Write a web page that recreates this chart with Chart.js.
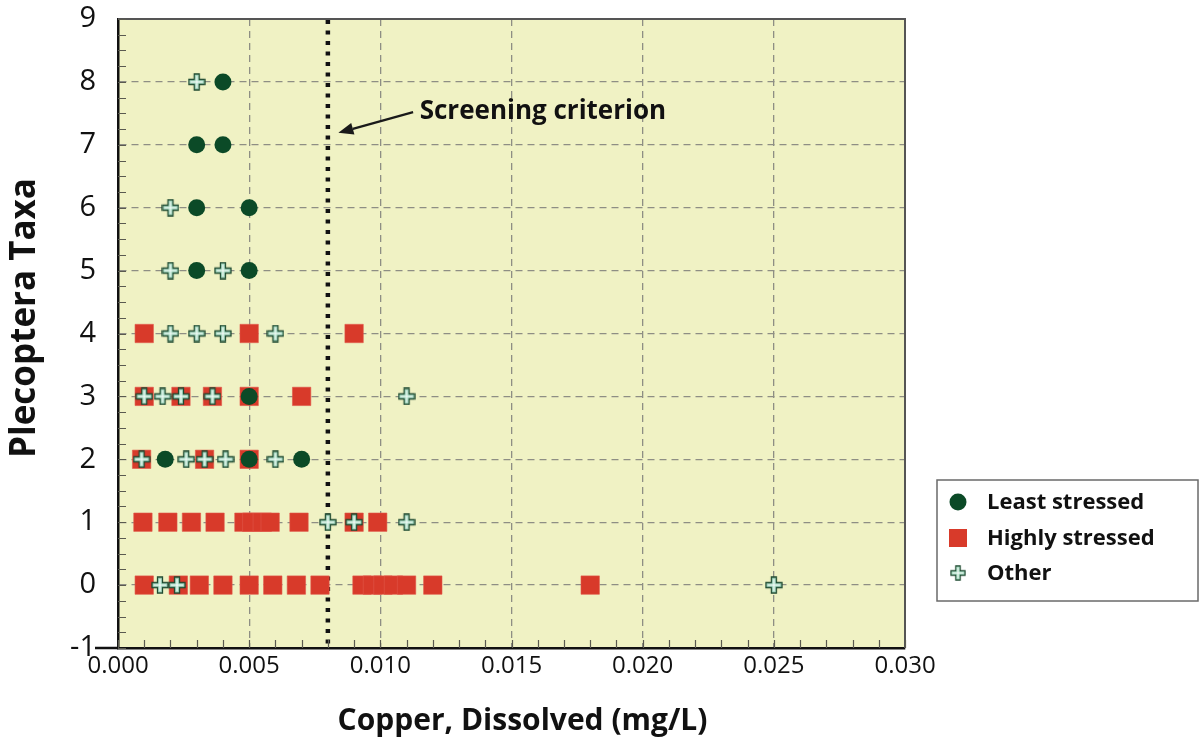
<!DOCTYPE html>
<html>
<head>
<meta charset="utf-8">
<script src="https://cdn.jsdelivr.net/npm/chart.js@4.4.1/dist/chart.umd.min.js"></script>
<style>
  html, body { margin: 0; padding: 0; background: #ffffff; }
  #wrap { width: 1201px; height: 740px; position: relative; }
</style>
</head>
<body>
<div id="wrap"><canvas id="c" width="1201" height="740"></canvas></div>
<script>
// ---------------- DATA ----------------
const leastX = [0.004, 0.003, 0.004, 0.003, 0.005, 0.003, 0.005, 0.005, 0.0018, 0.005, 0.007];
const leastY = [8, 7, 7, 6, 6, 5, 5, 3, 2, 2, 2];

const highX = [
  0.001, 0.005, 0.009,
  0.001, 0.0024, 0.0036, 0.005, 0.007,
  0.0009, 0.0033, 0.005,
  0.00095, 0.0019, 0.0028, 0.0037, 0.0048, 0.0051, 0.0055, 0.0058, 0.0069, 0.009, 0.0099,
  0.001, 0.0023, 0.0031, 0.004, 0.005, 0.0059, 0.0068, 0.0077, 0.0093, 0.0097, 0.0101, 0.0105, 0.011, 0.012, 0.018
];
const highY = [
  4, 4, 4,
  3, 3, 3, 3, 3,
  2, 2, 2,
  1, 1, 1, 1, 1, 1, 1, 1, 1, 1, 1,
  0, 0, 0, 0, 0, 0, 0, 0, 0, 0, 0, 0, 0, 0, 0
];

const otherX = [
  0.003,
  0.002,
  0.002, 0.004,
  0.002, 0.003, 0.004, 0.006,
  0.001, 0.0017, 0.0024, 0.0036, 0.011,
  0.0009, 0.0026, 0.0033, 0.0041, 0.006,
  0.008, 0.009, 0.011,
  0.0016, 0.00225, 0.025
];
const otherY = [
  8,
  6,
  5, 5,
  4, 4, 4, 4,
  3, 3, 3, 3, 3,
  2, 2, 2, 2, 2,
  1, 1, 1,
  0, 0, 0
];

const seriesNames = ['Least stressed', 'Highly stressed', 'Other'];
const xTickValues = [0.000, 0.005, 0.010, 0.015, 0.020, 0.025, 0.030];
const yTickValues = [-1, 0, 1, 2, 3, 4, 5, 6, 7, 8, 9];
const xTitle = 'Copper, Dissolved (mg/L)';
const yTitle = 'Plecoptera Taxa';
const criterionValue = 0.008;
const criterionLabel = 'Screening criterion';
const arrowTip = [0.0084, 7.19];
const arrowTail = [0.01125, 7.52];
const labelPos = [0.0115, 7.52];

// ---------------- STYLE ----------------
const FONT = '"Open Sans", "DejaVu Sans", sans-serif';
const PLOT_BG = '#f0f2c4';
const C_LEAST = '#0b4a27';
const C_HIGH = '#d83a2a';
const GRID = '#8e8e84';

function makeCross(size, arm) {
  const c = document.createElement('canvas');
  c.width = size; c.height = size;
  const g = c.getContext('2d');
  const o = 1, s = size - 1;
  const a = (size - arm) / 2, b = (size + arm) / 2;
  g.beginPath();
  g.moveTo(a, o); g.lineTo(b, o); g.lineTo(b, a); g.lineTo(s, a); g.lineTo(s, b);
  g.lineTo(b, b); g.lineTo(b, s); g.lineTo(a, s); g.lineTo(a, b); g.lineTo(o, b);
  g.lineTo(o, a); g.lineTo(a, a); g.closePath();
  g.fillStyle = '#a9dcc4';
  g.fill();
  g.strokeStyle = '#1f4a31';
  g.lineWidth = 1.3;
  g.stroke();
  g.strokeStyle = 'rgba(255,255,255,0.95)';
  g.lineWidth = 1;
  g.beginPath();
  g.moveTo(size / 2, o + 2); g.lineTo(size / 2, s - 2);
  g.moveTo(o + 2, size / 2); g.lineTo(s - 2, size / 2);
  g.stroke();
  return c;
}
const crossImg = makeCross(18, 5);

function pts(xs, ys) { return xs.map((x, i) => ({ x: x, y: ys[i] })); }

const decor = {
  id: 'decor',
  beforeDraw(chart) {
    const { ctx, chartArea: a } = chart;
    ctx.save();
    ctx.fillStyle = PLOT_BG;
    ctx.fillRect(a.left, a.top, a.right - a.left, a.bottom - a.top);
    ctx.restore();
  },
  beforeDatasetsDraw(chart) {
    const { ctx, chartArea: a, scales } = chart;
    const xs = scales.x;
    ctx.save();
    const cx = xs.getPixelForValue(criterionValue);
    ctx.strokeStyle = '#111111';
    ctx.lineWidth = 4.5;
    ctx.setLineDash([4, 6.5]);
    ctx.beginPath();
    ctx.moveTo(cx, a.top + 1);
    ctx.lineTo(cx, a.bottom);
    ctx.stroke();
    ctx.restore();
  },
  afterDraw(chart) {
    const { ctx, chartArea: a, scales } = chart;
    const xs = scales.x, ys = scales.y;
    ctx.save();
    // top & right border
    ctx.strokeStyle = '#555555';
    ctx.lineWidth = 2;
    ctx.beginPath();
    ctx.moveTo(a.left, a.top); ctx.lineTo(a.right, a.top); ctx.lineTo(a.right, a.bottom);
    ctx.stroke();
    // minor ticks (inward)
    ctx.strokeStyle = '#5a5a50';
    ctx.lineWidth = 1.2;
    ctx.beginPath();
    for (let v = ys.min; v <= ys.max + 1e-9; v += 0.25) {
      const py = Math.round(ys.getPixelForValue(v)) + 0.5;
      ctx.moveTo(a.left, py); ctx.lineTo(a.left + 8, py);
    }
    for (let k = 0; k <= 30; k++) {
      const px = Math.round(xs.getPixelForValue(k * 0.001)) + 0.5;
      ctx.moveTo(px, a.bottom); ctx.lineTo(px, a.bottom - 8);
    }
    ctx.stroke();
    ctx.strokeStyle = '#111';
    ctx.lineWidth = 2.5;
    ctx.beginPath();
    ctx.moveTo(a.left - 23, a.bottom); ctx.lineTo(a.left, a.bottom);
    ctx.stroke();

    // axis titles
    ctx.font = 'bold 30px ' + FONT;
    ctx.fillStyle = '#111';
    ctx.textAlign = 'center';
    ctx.textBaseline = 'middle';
    ctx.fillText(xTitle, (a.left + a.right) / 2 + 11, 721);
    ctx.save();
    ctx.translate(25, 318);
    ctx.rotate(-Math.PI / 2);
    ctx.font = 'bold 35px ' + FONT;
    ctx.fillText(yTitle, 0, 0);
    ctx.restore();

    // annotation arrow
    const tx = xs.getPixelForValue(arrowTip[0]), ty = ys.getPixelForValue(arrowTip[1]);
    const sx = xs.getPixelForValue(arrowTail[0]), sy = ys.getPixelForValue(arrowTail[1]);
    const ang = Math.atan2(ty - sy, tx - sx);
    const hl = 15, hw = 6;
    const bx = tx - hl * Math.cos(ang), by = ty - hl * Math.sin(ang);
    ctx.strokeStyle = '#1a1a1a';
    ctx.lineWidth = 2.2;
    ctx.beginPath(); ctx.moveTo(sx, sy); ctx.lineTo(bx, by); ctx.stroke();
    ctx.fillStyle = '#1a1a1a';
    ctx.beginPath();
    ctx.moveTo(tx, ty);
    ctx.lineTo(bx + hw * Math.sin(ang), by - hw * Math.cos(ang));
    ctx.lineTo(bx - hw * Math.sin(ang), by + hw * Math.cos(ang));
    ctx.closePath(); ctx.fill();
    ctx.font = 'bold 26px ' + FONT;
    ctx.textBaseline = 'middle';
    ctx.textAlign = 'left';
    ctx.fillStyle = '#111';
    ctx.fillText(criterionLabel, xs.getPixelForValue(labelPos[0]), ys.getPixelForValue(labelPos[1]));

    // legend
    const L = { x: 937, y: 480, w: 261, h: 121 };
    ctx.fillStyle = '#ffffff';
    ctx.fillRect(L.x, L.y, L.w, L.h);
    ctx.strokeStyle = '#6a6a6a';
    ctx.lineWidth = 1.5;
    ctx.strokeRect(L.x, L.y, L.w, L.h);
    const rows = [502, 538, 573];
    ctx.font = 'bold 22px ' + FONT;
    ctx.textBaseline = 'middle';
    ctx.textAlign = 'left';
    ctx.fillStyle = C_LEAST;
    ctx.beginPath(); ctx.arc(958, rows[0], 8.5, 0, Math.PI * 2); ctx.fill();
    ctx.fillStyle = C_HIGH;
    ctx.fillRect(949, rows[1] - 9, 18, 18);
    ctx.drawImage(crossImg, 958 - 8, rows[2] - 8, 16, 16);
    ctx.fillStyle = '#111';
    seriesNames.forEach((n, i) => ctx.fillText(n, 987, rows[i] + 1));
    ctx.restore();
  }
};

new Chart(document.getElementById('c'), {
  type: 'scatter',
  data: {
    datasets: [
      {
        label: seriesNames[0], data: pts(leastX, leastY), order: 1,
        pointStyle: 'circle', pointRadius: 8.5, pointHoverRadius: 8.5,
        backgroundColor: C_LEAST, borderColor: C_LEAST, borderWidth: 0
      },
      {
        label: seriesNames[1], data: pts(highX, highY), order: 3,
        pointStyle: 'rect', pointRadius: 13, pointHoverRadius: 13,
        backgroundColor: C_HIGH, borderColor: '#e0584a', borderWidth: 0.6
      },
      {
        label: seriesNames[2], data: pts(otherX, otherY), order: 2,
        pointStyle: crossImg, pointRadius: 9, pointHoverRadius: 9
      }
    ]
  },
  options: {
    responsive: false,
    animation: false,
    events: [],
    layout: { padding: { left: 0, right: 296, top: 19, bottom: 0 } },
    plugins: { legend: { display: false }, tooltip: { enabled: false } },
    scales: {
      x: {
        type: 'linear', min: xTickValues[0], max: xTickValues[xTickValues.length - 1],
        afterBuildTicks: (s) => { s.ticks = xTickValues.map(v => ({ value: v })); },
        afterFit: (s) => { s.height = 92; s.paddingLeft = 0; s.paddingRight = 0; },
        ticks: {
          callback: (v) => Number(v).toFixed(3),
          font: { family: FONT, size: 24 }, color: '#111', padding: 4, maxRotation: 0
        },
        grid: {
          drawTicks: false,
          color: (c) => (c.tick && (c.tick.value <= 0 || c.tick.value >= 0.03)) ? 'rgba(0,0,0,0)' : GRID,
          lineWidth: 1.3
        },
        border: { display: true, color: '#111', width: 2.5, dash: [7, 5] },
        title: { display: false }
      },
      y: {
        type: 'linear', min: yTickValues[0], max: yTickValues[yTickValues.length - 1],
        afterBuildTicks: (s) => { s.ticks = yTickValues.map(v => ({ value: v })); },
        afterFit: (s) => { s.width = 118; s.paddingTop = 0; s.paddingBottom = 0; },
        ticks: {
          font: { family: FONT, size: 29 }, color: '#111', padding: 22
        },
        grid: {
          drawTicks: false,
          color: (c) => (c.tick && (c.tick.value <= -1 || c.tick.value >= 9)) ? 'rgba(0,0,0,0)' : GRID,
          lineWidth: 1.3
        },
        border: { display: true, color: '#111', width: 2.5, dash: [7, 5] },
        title: { display: false }
      }
    }
  },
  plugins: [decor]
});
</script>
</body>
</html>
